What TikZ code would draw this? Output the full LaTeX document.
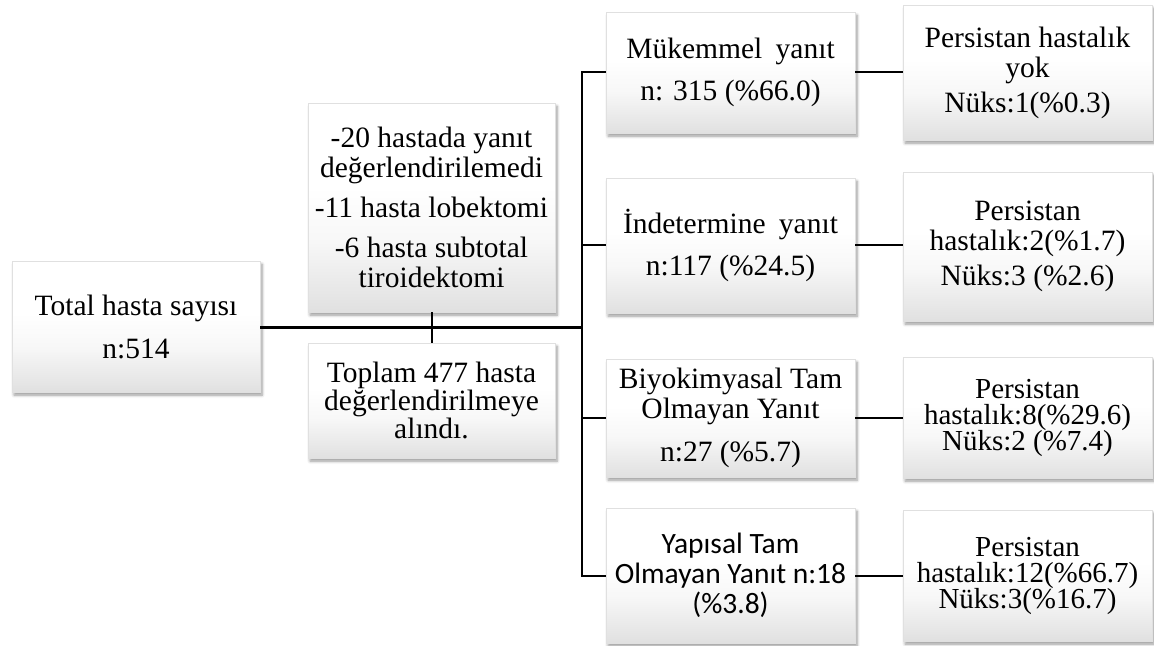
\documentclass[tikz,border=0pt]{standalone}
\usepackage{fontspec}
\setmainfont{Liberation Serif}
\newfontfamily\calibrifont{Carlito}
\usetikzlibrary{shadows.blur}
\lineskiplimit=-20pt
\pgfdeclareverticalshading{boxgrad}{100bp}{color(0bp)=(black!12); color(25bp)=(black!12); color(42bp)=(black!3); color(55bp)=(white); color(100bp)=(white)}
\tikzset{
  box/.style={shade, shading=boxgrad, draw=black!12, line width=0.3pt,
    blur shadow={shadow xshift=1pt, shadow yshift=-1.6pt, shadow blur steps=6, shadow blur radius=1.4pt},
    align=center, inner sep=0pt, text=black,
    font=\fontsize{14.75}{15}\selectfont},
  tight/.style={font=\fontsize{14.5}{13}\selectfont},
  calib/.style={font=\calibrifont\fontsize{14.75}{15}\selectfont},
  mid/.style={box, minimum width=123.5pt},
  rb/.style={box, minimum width=124.5pt},
  mainline/.style={line width=1.5pt},
  conn/.style={line width=1pt},
}
\begin{document}
\begin{tikzpicture}[x=0.5pt, y=-0.5pt]
\useasboundingbox (0,0) rectangle (1154,646);
\node[box, minimum width=124pt, minimum height=65.5pt] (total) at (136,326.5) {Total hasta sayısı\\[6.5pt]n:514};
\node[mid, minimum height=104.5pt] (excl) at (431.5,207.5) {-20 hastada yanıt\\değerlendirilemedi\\[5pt]-11 hasta lobektomi\\[5pt]-6 hasta subtotal\\tiroidektomi};
\node[mid, minimum height=57.5pt, font=\fontsize{14.75}{14}\selectfont] (incl) at (431.5,400.5) {Toplam 477 hasta\\değerlendirilmeye\\alındı.};
\node[rb, minimum height=60.5pt] (r1) at (730.5,72.5) {Mükemmel \hspace{3pt}yanıt\\[6pt]n: 315 (\%66.0)};
\node[rb, minimum height=67.5pt] (r2) at (730.5,245.5) {İndetermine \hspace{3pt}yanıt\\[6pt]n:117 (\%24.5)};
\node[rb, minimum height=59pt] (r3) at (730.5,418) {Biyokimyasal Tam\\Olmayan Yanıt\\[6.5pt]n:27 (\%5.7)};
\node[rb, calib, minimum height=67.5pt] (r4) at (730.5,575.5) {Yapısal Tam\\Olmayan Yanıt n:18\\(\%3.8)};
\node[rb, minimum height=67.5pt] (f1) at (1027.5,72.5) {Persistan hastalık\\yok\\[2.5pt]Nüks:1(\%0.3)};
\node[rb, minimum height=74.5pt] (f2) at (1027.5,246.5) {Persistan\\hastalık:2(\%1.7)\\[2.5pt]Nüks:3 (\%2.6)};
\node[rb, tight, minimum height=60.5pt] (f3) at (1027.5,417.5) {Persistan\\hastalık:8(\%29.6)\\Nüks:2 (\%7.4)};
\node[rb, tight, minimum height=65.5pt] (f4) at (1027.5,575.5) {Persistan\\hastalık:12(\%66.7)\\Nüks:3(\%16.7)};
\coordinate (j) at (582,327);
\draw[mainline] (total.east |- j) -- (j);
\draw[conn] (excl.south) -- (incl.north);
\draw[conn] (r1.west) -- (r1.west -| j) -- (r4.west -| j) -- (r4.west);
\draw[conn] (r2.west -| j) -- (r2.west);
\draw[conn] (r3.west -| j) -- (r3.west);
\draw[conn] (r1.east) -- (r1.east -| f1.west);
\draw[conn] (r2.east) -- (r2.east -| f2.west);
\draw[conn] (r3.east) -- (r3.east -| f3.west);
\draw[conn] (r4.east) -- (r4.east -| f4.west);
\end{tikzpicture}
\end{document}
